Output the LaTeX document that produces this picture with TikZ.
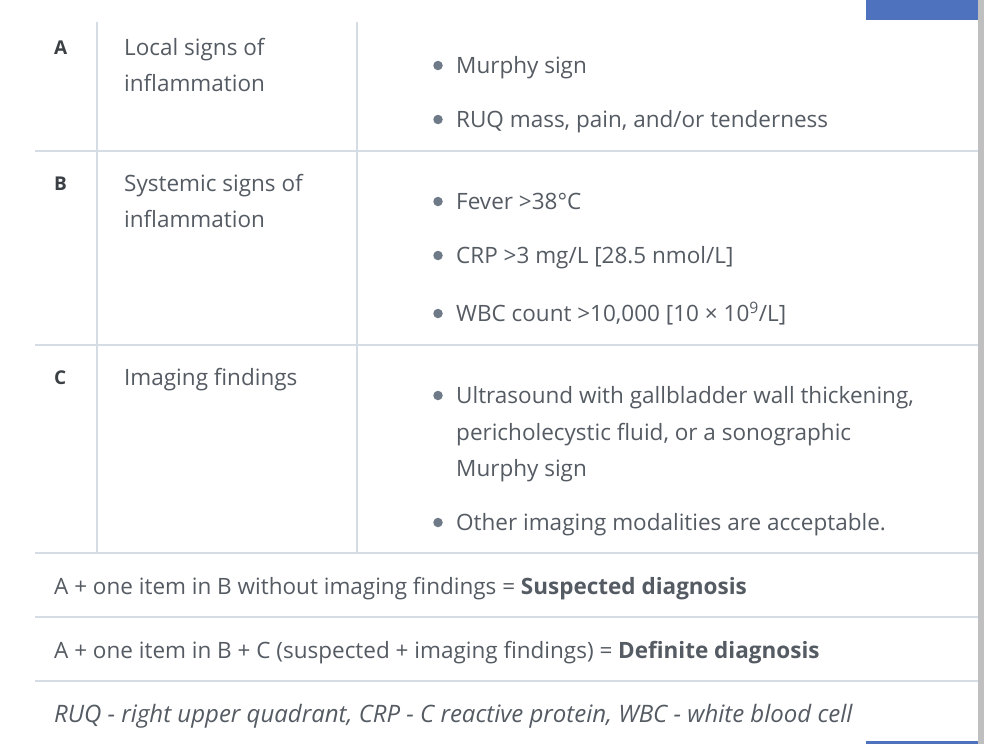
\documentclass[tikz,border=0pt]{standalone}
\usepackage{fontspec}
\setmainfont{Open Sans}
\begin{document}
\begin{tikzpicture}[x=1pt,y=-1pt,
  txt/.style={anchor=base west,inner sep=0pt,text=tc,font=\fontsize{22.5}{26}\selectfont},
  lt/.style={anchor=base west,inner sep=0pt,text=tc!70!black,font=\fontsize{19}{24}\selectfont\bfseries},
  grid/.style={draw=lc,line width=2pt},
  bul/.style={circle,fill=bc,inner sep=0pt,minimum size=9.5pt}]
\definecolor{tc}{HTML}{555B63}
\definecolor{lc}{HTML}{D5DCE4}
\definecolor{bc}{HTML}{6E7A88}
\definecolor{blu}{HTML}{4F72BE}
\useasboundingbox (0,0) rectangle (984,744);
\fill[white] (0,0) rectangle (984,744);
\fill[blu] (866,0) rectangle (978,20);
\fill[blu] (866,741) rectangle (978,744);
\fill[black!25] (978,0) rectangle (984,744);
\foreach \y in {151,345,553,617,681} \draw[grid] (35,\y) -- (978,\y);
\draw[grid] (97,22) -- (97,553);
\draw[grid] (357,22) -- (357,553);
\node[lt] (la) at (54,54) {A};
\node[lt] (lb) at (54,190) {B};
\node[lt] (lc) at (54,384) {C};
\node[txt] (a1) at (124,55) {Local signs of};
\node[txt] (a2) at (124,91) {inflammation};
\node[txt] (b1) at (124,191) {Systemic signs of};
\node[txt] (b2) at (124,227) {inflammation};
\node[txt] (c1) at (124,385) {Imaging findings};
\foreach \n/\y/\t in {p1/73/Murphy sign,p2/127/{RUQ mass, pain, and/or tenderness},p3/209/{Fever >38°C},p4/263/{CRP >3 mg/L [28.5 nmol/L]},p5/321/{WBC count >10,000 [10 × 10\textsuperscript{9}/L]},p6/403/{Ultrasound with gallbladder wall thickening,},p9/530/{Other imaging modalities are acceptable.}}{
  \node[txt] (\n) at (456,\y) {\t};
  \node[bul] at (438,\y-7.5) {};
}
\node[txt] (p7) at (456,440) {pericholecystic fluid, or a sonographic};
\node[txt] (p8) at (456,476) {Murphy sign};
\node[txt] (s1) at (54,594) {A + one item in B without imaging findings = \textbf{Suspected diagnosis}};
\node[txt] (s2) at (54,658) {A + one item in B + C (suspected + imaging findings) = \textbf{Definite diagnosis}};
\node[txt,font=\fontsize{24}{26}\selectfont\itshape] (s3) at (54,722) {RUQ - right upper quadrant, CRP - C reactive protein, WBC - white blood cell};
\end{tikzpicture}
\end{document}
